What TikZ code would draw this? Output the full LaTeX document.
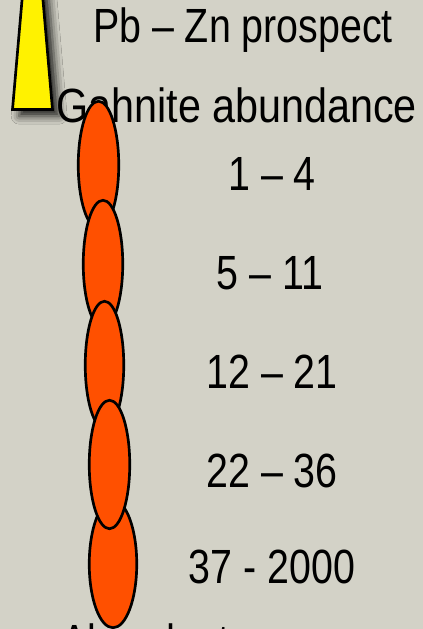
\documentclass[tikz,border=0pt]{standalone}
\usepackage{fontspec}
\setmainfont{Liberation Sans}[FakeStretch=0.82]
\usetikzlibrary{shapes.geometric,shadows.blur}
\definecolor{bg}{RGB}{211,210,199}
\definecolor{redorange}{RGB}{255,80,0}
\tikzset{
  lbl/.style={inner sep=0pt, anchor=base, font=\fontsize{36}{40}\selectfont},
  blob/.style 2 args={shape=ellipse, draw=black, line width=2pt, fill=redorange,
    inner sep=0pt, minimum width=#1*0.75pt, minimum height=#2*0.75pt},
  marker/.style={draw=black, fill=yellow, line width=2pt,
    blur shadow={shadow xshift=5pt, shadow yshift=-5pt, shadow blur radius=6pt, shadow opacity=85}}
}
\begin{document}
\begin{tikzpicture}[x=0.75pt,y=-0.75pt]
\useasboundingbox (0,0) rectangle (423,629);
\fill[bg] (0,0) rectangle (423,629);
\clip (0,0) rectangle (423,629);
% Pb-Zn prospect marker
\draw[marker] (12.5,109.5) -- (52.5,109.5) -- (42.1,-10) -- (22.9,-10) -- cycle;
% texts
\node[lbl] (t1) at (243,42) {Pb – Zn prospect};
\node[lbl, anchor=base west] (t2) at (56,122) {\scalebox{1.05}[1]{Gahnite abundance}};
\node[lbl] (c1) at (272,190) {1 – 4};
\node[lbl] (c2) at (270,289) {5 – 11};
\node[lbl] (c3) at (272,388) {12 – 21};
\node[lbl] (c4) at (272,487) {22 – 36};
\node[lbl] (c5) at (272,583) {37 - 2000};
\node[lbl, anchor=base west] (t3) at (61,658) {Abundant};
% ellipses
\node[blob={40.5}{127.5}] (e1) at (98.5,165) {};
\node[blob={39.5}{127.5}] (e2) at (103,264) {};
\node[blob={38.5}{127.5}] (e3) at (104.5,365) {};
\node[blob={47.5}{127.5}] (e5) at (113,564) {};
\node[blob={40.5}{128.5}] (e4) at (109.5,464.5) {};
\end{tikzpicture}
\end{document}
